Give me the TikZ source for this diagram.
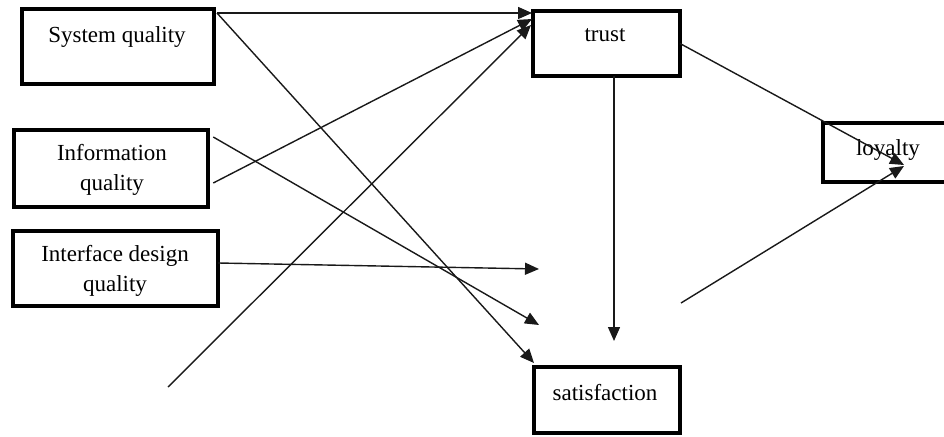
\documentclass[tikz,border=0pt]{standalone}
\usepackage{fontspec}
\setmainfont{Liberation Serif}
\usetikzlibrary{arrows.meta,calc}
\begin{document}
\begin{tikzpicture}[x=1pt,y=-1pt,
  box/.style={draw=black,line width=4pt,outer sep=0pt,inner sep=0pt,rectangle},
  txt/.style={inner sep=0pt,outer sep=0pt,anchor=base,font=\fontsize{23}{28}\selectfont},
  link/.style={line width=1.4pt,draw=black!90},
  arr/.style={link,-{Triangle[length=14pt,width=12pt]}}]
\useasboundingbox (0,0) rectangle (944,436);
% boxes
\node[box,minimum width=192pt,minimum height=75pt] (sq) at (118,46.5) {};
\node[box,minimum width=194.5pt,minimum height=77pt] (iq) at (111,168.5) {};
\node[box,minimum width=205pt,minimum height=75pt] (idq) at (115.7,268.5) {};
\node[box,minimum width=147pt,minimum height=65pt] (trust) at (606.5,43.5) {};
\node[box,minimum width=160pt,minimum height=59pt] (loy) at (903,152.5) {};
\node[box,minimum width=146pt,minimum height=66pt] (sat) at (607,400) {};
% texts
\node[txt] (sqt) at (117,42) {System quality};
\node[txt] (iqt1) at (112,160.5) {Information};
\node[txt] (iqt2) at (112,190) {quality};
\node[txt] (idqt1) at (115,261.5) {Interface design};
\node[txt] (idqt2) at (115,291) {quality};
\node[txt] (trt) at (605,41.5) {trust};
\node[txt] (loyt) at (888,155) {loyalty};
\node[txt] (satt) at (605,400) {satisfaction};
% free ends
\coordinate (e1) at (539,269);
\coordinate (e2) at (539,325);
\coordinate (s1) at (168,387);
\coordinate (s2) at (681,303);
\coordinate (e3) at ($(sat.north)+(7,-26)$);
% connectors
\draw[arr] ($(sq.north east)+(3,4)$) -- ($(trust.north west)+(-1,2)$);
\draw[arr] ($(sq.north east)+(3,4)$) -- ($(sat.north west)+(0,-4)$);
\draw[arr] ($(iq.east)+(5,14.5)$) -- ($(trust.north west)+(-1,8)$);
\draw[arr] ($(iq.east)+(5,-31.5)$) -- (e2);
\draw[arr] ($(idq.east)+(0,-5.5)$) -- (e1);
\draw[arr] (s1) -- ($(trust.north west)+(-2,14)$);
\draw[arr] ($(trust.south)+(7.5,0)$) -- (e3);
\draw[arr] (trust.east) -- ($(loy.south west)+(81,-17)$);
\draw[arr] (s2) -- ($(loy.south west)+(81,-16)$);
\end{tikzpicture}
\end{document}
